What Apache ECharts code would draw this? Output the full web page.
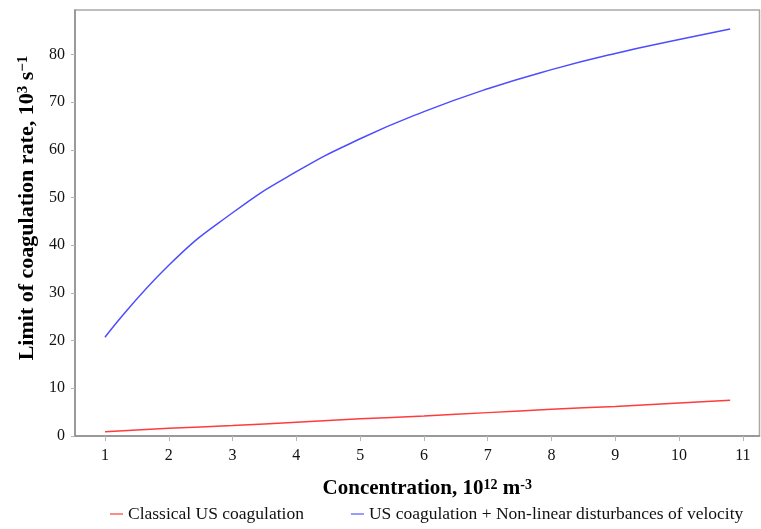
<!DOCTYPE html>
<html>
<head>
<meta charset="utf-8">
<script src="https://cdn.jsdelivr.net/npm/echarts@6/dist/echarts.min.js"></script>
<style>
  html, body { margin: 0; padding: 0; background: #fff; }
  #chart { width: 761px; height: 529px; }
</style>
</head>
<body>
<div id="chart"></div>
<script>
// data
var concentration = [1, 2, 3, 4, 5, 6, 7, 8, 9, 10, 10.8];
var classicalUS = [0.9, 1.6, 2.2, 2.9, 3.6, 4.2, 4.9, 5.6, 6.2, 6.9, 7.5];
var usNonLinear = [20.7, 35.8, 46.8, 55.4, 62.3, 68.0, 72.8, 76.8, 80.2, 83.1, 85.3];
var xTicks = [1, 2, 3, 4, 5, 6, 7, 8, 9, 10, 11];
var yTicks = [0, 10, 20, 30, 40, 50, 60, 70, 80];
var seriesNames = ['Classical US coagulation', 'US coagulation + Non-linear disturbances of velocity'];

function pairs(xs, ys) {
  return xs.map(function (x, i) { return [x, ys[i]]; });
}

var serif = '"Liberation Serif", "Times New Roman", serif';
var axisGrey = '#8f8f8f';

var chart = echarts.init(document.getElementById('chart'));
chart.setOption({
  animation: false,
  grid: {
    left: 75, right: 1.5, top: 10, bottom: 93,
    show: true, borderColor: '#a8a8a8', borderWidth: 1.5,
    containLabel: false, outerBoundsMode: 'none'
  },
  legend: {
    left: 105, bottom: 1,
    itemGap: 47, itemWidth: 13, itemHeight: 2,
    icon: 'rect',
    textStyle: { fontFamily: serif, fontSize: 17.5, color: '#111' },
    data: [
      { name: seriesNames[0], itemStyle: { color: '#ff8a8a' } },
      { name: seriesNames[1], itemStyle: { color: '#9a9aff' } }
    ]
  },
  xAxis: {
    type: 'value',
    min: 0.53, max: 11.26,
    name: '{b|Concentration, 10}{s|12}{b| m}{s|-3}',
    nameLocation: 'middle', nameGap: 42,
    nameTextStyle: {
      padding: [0, 0, 0, 20],
      rich: {
        b: { fontFamily: serif, fontWeight: 'bold', fontSize: 21, color: '#000', verticalAlign: 'bottom' },
        s: { fontFamily: serif, fontWeight: 'bold', fontSize: 14, color: '#000', verticalAlign: 'top' }
      }
    },
    axisLine: { show: true, lineStyle: { color: axisGrey, width: 1.5 } },
    axisTick: { show: true, length: 5, lineStyle: { color: '#b5b5b5' }, customValues: xTicks },
    axisLabel: { fontFamily: serif, fontSize: 16, color: '#111', margin: 12, customValues: xTicks },
    splitLine: { show: false }
  },
  yAxis: {
    type: 'value',
    min: 0, max: 89.3,
    name: '{b|Limit of coagulation rate, 10}{s|3}{b| s}{s|\u22121}',
    nameLocation: 'middle', nameGap: 36, nameRotate: 90,
    nameTextStyle: {
      padding: [0, 0, 0, 30],
      rich: {
        b: { fontFamily: serif, fontWeight: 'bold', fontSize: 22, color: '#000', verticalAlign: 'bottom' },
        s: { fontFamily: serif, fontWeight: 'bold', fontSize: 15, color: '#000', verticalAlign: 'top' }
      }
    },
    axisLine: { show: true, lineStyle: { color: axisGrey, width: 1.5 } },
    axisTick: { show: true, length: 4, lineStyle: { color: '#b5b5b5' }, customValues: yTicks },
    axisLabel: { fontFamily: serif, fontSize: 16, color: '#111', margin: 10, customValues: yTicks },
    splitLine: { show: false }
  },
  series: [
    {
      name: seriesNames[0],
      type: 'line',
      smooth: true,
      symbol: 'none',
      data: pairs(concentration, classicalUS),
      lineStyle: { color: '#ff3b3b', width: 1.5 },
      itemStyle: { color: '#ff3b3b' }
    },
    {
      name: seriesNames[1],
      type: 'line',
      smooth: true,
      symbol: 'none',
      data: pairs(concentration, usNonLinear),
      lineStyle: { color: '#4d4dff', width: 1.5 },
      itemStyle: { color: '#4d4dff' }
    }
  ]
});
</script>
</body>
</html>
